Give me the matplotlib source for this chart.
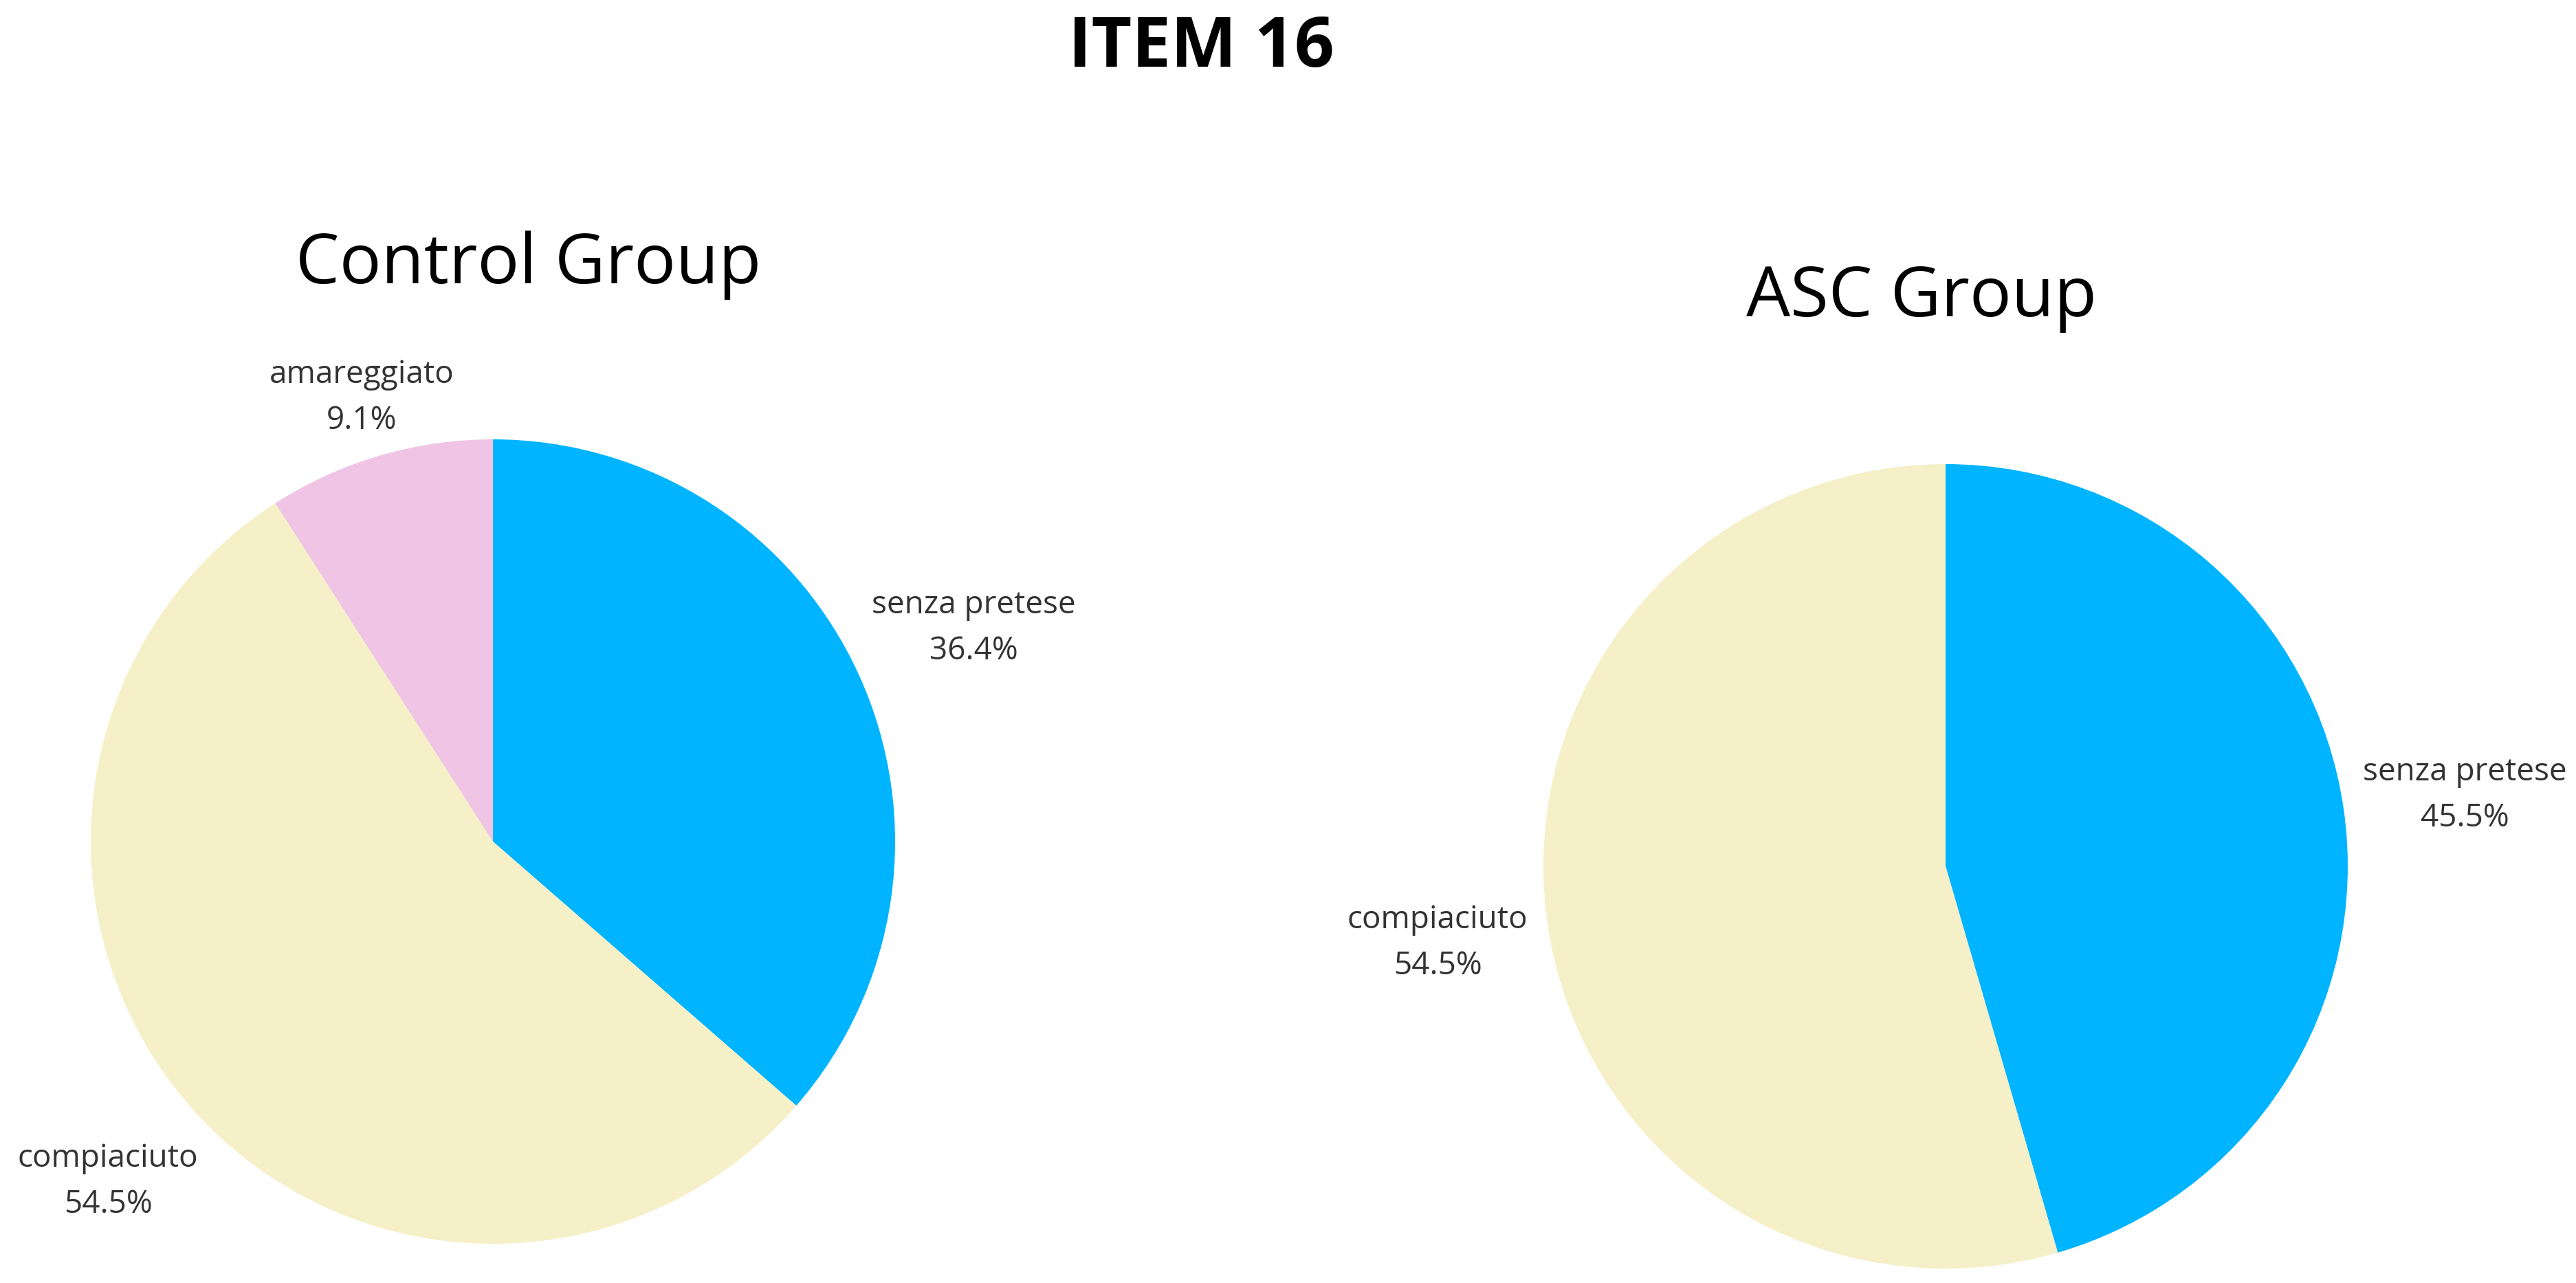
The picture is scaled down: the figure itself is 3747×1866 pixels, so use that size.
import matplotlib
matplotlib.use("Agg")
import matplotlib.pyplot as plt

# ---------------- data ----------------
control_categories = ["senza pretese", "compiaciuto", "amareggiato"]
control_values = [36.4, 54.5, 9.1]

asc_categories = ["senza pretese", "compiaciuto"]
asc_values = [45.5, 54.5]

main_title = "ITEM 16"
group_titles = ["Control Group", "ASC Group"]

# ---------------- styles ----------------
category_colors = {
    "senza pretese": "#00B4FF",
    "compiaciuto": "#F5F0C8",
    "amareggiato": "#EFC4E4",
}
FONT = ["Open Sans", "DejaVu Sans"]
W, H = 3748, 1866

fig = plt.figure(figsize=(W / 100, H / 100), dpi=100)
ax = fig.add_axes([0, 0, 1, 1])
ax.set_xlim(0, W)
ax.set_ylim(0, H)
ax.set_aspect("equal")
ax.axis("off")


def Y(y):
    return H - y


# pie geometry (pixel units)
pies = [
    dict(cats=control_categories, vals=control_values, center=(717, 1224), r=585,
         title=group_titles[0], title_pos=(430, 412),
         label_pos={"amareggiato": (526, 557), "senza pretese": (1416, 892),
                    "compiaciuto": (157, 1697)}),
    dict(cats=asc_categories, vals=asc_values, center=(2830, 1260), r=585,
         title=group_titles[1], title_pos=(2540, 460),
         label_pos={"senza pretese": (3585, 1135), "compiaciuto": (2091, 1350)}),
]

for p in pies:
    cx, cy = p["center"]
    ax.pie(p["vals"], colors=[category_colors[c] for c in p["cats"]],
           startangle=90, counterclock=False, center=(cx, Y(cy)), radius=p["r"],
           wedgeprops=dict(linewidth=0), frame=True)
    tx, ty = p["title_pos"]
    ax.text(tx, Y(ty), p["title"], ha="left", va="baseline", fontsize=73,
            family=FONT, color="#000000")
    for cat, val in zip(p["cats"], p["vals"]):
        lx, ly = p["label_pos"][cat]
        ax.text(lx, Y(ly), cat, ha="center", va="baseline", fontsize=33,
                family=FONT, color="#333333")
        ax.text(lx, Y(ly + 67), f"{val:.1f}%", ha="center", va="baseline",
                fontsize=33, family=FONT, color="#333333")

# restore limits (pie with frame=True may change them)
ax.set_xlim(0, W)
ax.set_ylim(0, H)
ax.axis("off")

ax.text(1747, Y(97), main_title, ha="center", va="baseline", fontsize=73,
        fontweight="bold", family=FONT, color="#000000")

fig.savefig("out.png", dpi=100, facecolor="white")
